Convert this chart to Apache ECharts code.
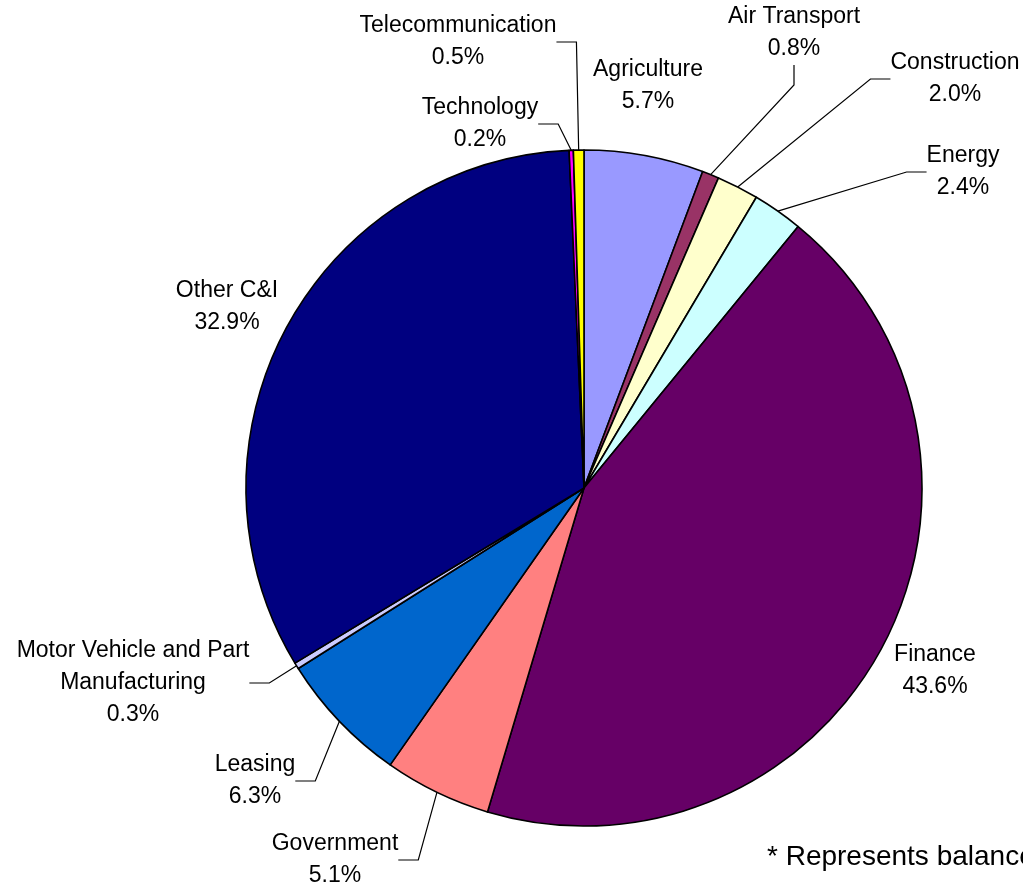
<!DOCTYPE html>
<html>
<head>
<meta charset="utf-8">
<script src="https://cdn.jsdelivr.net/npm/echarts@6/dist/echarts.min.js"></script>
<style>
  html, body { margin: 0; padding: 0; background: #fff; }
  #chart { width: 1023px; height: 887px; }
</style>
</head>
<body>
<div id="chart"></div>
<script>
// Data
const categories = [
  'Agriculture', 'Air Transport', 'Construction', 'Energy', 'Finance',
  'Government', 'Leasing', 'Motor Vehicle and Part\nManufacturing',
  'Other C&I', 'Technology', 'Telecommunication'
];
const values = [5.7, 0.8, 2.0, 2.4, 43.6, 5.1, 6.3, 0.3, 32.9, 0.2, 0.5];
const colors = [
  '#9999FF', '#993366', '#FFFFCC', '#CCFFFF', '#660066',
  '#FF8080', '#0066CC', '#CCCCFF', '#000080', '#FF00FF', '#FFFF00'
];
const footnote = '* Represents balances as of';

// Label placement (centre of each label block) and whether a leader line is drawn
const labelPos = [
  [648, 86], [794, 33], [955, 79], [963, 172], [935, 671],
  [335, 860], [255, 781], [133, 683], [227, 307], [480, 124], [458, 42]
];
const showLine = [false, true, true, true, false, true, true, true, false, true, true];

const chart = echarts.init(document.getElementById('chart'), null, { renderer: 'canvas' });

const data = categories.map((name, i) => ({
  name: name,
  value: values[i],
  itemStyle: { color: colors[i] },
  labelLine: { show: showLine[i] }
}));

chart.setOption({
  animation: false,
  backgroundColor: '#ffffff',
  series: [{
    type: 'pie',
    center: [584, 488],
    radius: 338,
    startAngle: 90,
    clockwise: true,
    avoidLabelOverlap: false,
    data: data,
    itemStyle: { borderColor: '#000000', borderWidth: 1.6 },
    label: {
      show: true,
      position: 'outside',
      color: '#000000',
      fontFamily: 'Liberation Sans, Arial, sans-serif',
      fontSize: 23,
      lineHeight: 32,
      align: 'center',
      formatter: p => p.name + '\n' + p.value.toFixed(1) + '%'
    },
    labelLine: {
      show: true,
      length: 15,
      length2: 20,
      lineStyle: { color: '#000000', width: 1.2 }
    },
    labelLayout: function (params) {
      const p = labelPos[params.dataIndex];
      return { x: p[0], y: p[1], align: 'center', verticalAlign: 'middle', hideOverlap: false };
    },
    emphasis: { disabled: true }
  }],
  graphic: [{
    type: 'text',
    left: 767,
    top: 843,
    style: {
      text: footnote,
      fill: '#000000',
      font: '28px "Liberation Sans", Arial, sans-serif'
    }
  }]
});
</script>
</body>
</html>
